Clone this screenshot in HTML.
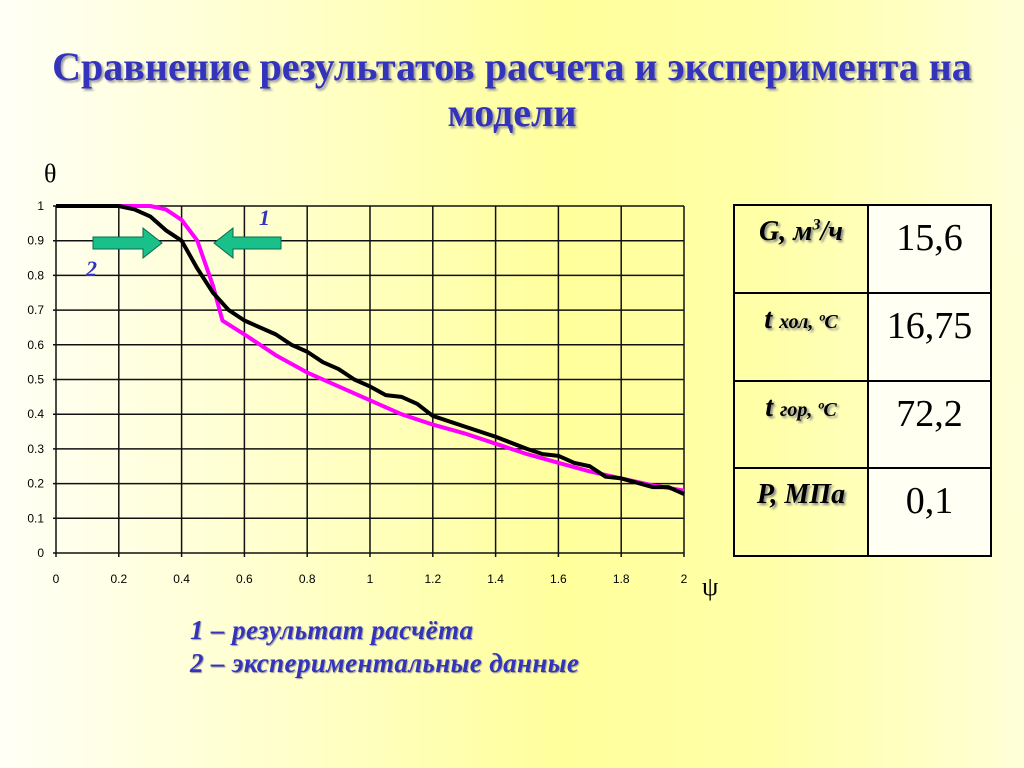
<!DOCTYPE html>
<html><head><meta charset="utf-8"><style>
html,body{margin:0;padding:0}
body{width:1024px;height:768px;overflow:hidden;position:relative;font-family:"Liberation Sans",sans-serif;
background:linear-gradient(90deg,#fffff6 0%,#ffffc8 30%,#ffff9c 55%,#ffffa8 75%,#ffffd8 100%);}
.title{position:absolute;left:0;width:1024px;text-align:center;font-family:"Liberation Serif",serif;font-weight:bold;font-size:40px;color:#3333bb;text-shadow:2px 2px 2px #999;line-height:46px;margin:0}
.leg{position:absolute;left:190px;font-family:"Liberation Serif",serif;font-style:italic;font-weight:bold;font-size:27px;letter-spacing:0.4px;color:#3333bb;text-shadow:1px 1px 1px #999}
table{position:absolute;left:733px;top:204px;width:259px;height:353px;border-collapse:collapse;border:2px solid #000}
td{border:2px solid #000;vertical-align:top;font-family:"Liberation Serif",serif;padding-top:10px;text-align:center}
td.k{width:132px;font-weight:bold;font-style:italic;font-size:28px;color:#000;text-shadow:2px 2px 2px #888;white-space:nowrap;padding-left:0;padding-right:0}
td.v{font-size:38px;background:#fffff4}
</style></head><body>
<h1 class="title" style="top:44px">Сравнение результатов расчета и эксперимента на<br>модели</h1>
<svg width="1024" height="768" style="position:absolute;left:0;top:0">
<g id="grid"></g><g id="ticks"></g><g id="series"></g>
<text x="44" y="182" font-family="Liberation Serif" font-size="26">θ</text>
<text x="702" y="595" font-family="Liberation Serif" font-size="26">ψ</text>
<g><polygon points="93,237 143,237 143,228 162,243 143,258 143,249 93,249" fill="#19c08a" stroke="#0a6a4a" stroke-width="1"/></g>
<g><polygon points="281,237 233,237 233,228 214,243 233,258 233,249 281,249" fill="#19c08a" stroke="#0a6a4a" stroke-width="1"/></g>
<text x="259" y="225" font-family="Liberation Serif" font-style="italic" font-weight="bold" font-size="22" fill="#3333bb">1</text>
<text x="86" y="276" font-family="Liberation Serif" font-style="italic" font-weight="bold" font-size="22" fill="#3333bb">2</text>
</svg>
<div class="leg" style="top:615px">1 – результат расчёта</div>
<div class="leg" style="top:648px">2 – экспериментальные данные</div>
<table>
<tr><td class="k">G, м<sup style="font-size:16px">3</sup>/ч</td><td class="v">15,6</td></tr>
<tr><td class="k">t <span style="font-size:20px">хол, ºС</span></td><td class="v">16,75</td></tr>
<tr><td class="k">t <span style="font-size:20px">гор, ºС</span></td><td class="v">72,2</td></tr>
<tr><td class="k">P, МПа</td><td class="v">0,1</td></tr>
</table>
<script>
const xTicks=[0,0.2,0.4,0.6,0.8,1,1.2,1.4,1.6,1.8,2];
const xTickLabels=["0","0.2","0.4","0.6","0.8","1","1.2","1.4","1.6","1.8","2"];
const yTicks=[0,0.1,0.2,0.3,0.4,0.5,0.6,0.7,0.8,0.9,1];
const yTickLabels=["0","0.1","0.2","0.3","0.4","0.5","0.6","0.7","0.8","0.9","1"];
const calcX=[0,0.3,0.35,0.4,0.45,0.5,0.53,0.6,0.7,0.8,0.9,1.0,1.1,1.2,1.3,1.4,1.5,1.6,1.7,1.8,1.9,2.0];
const calcY=[1,1,0.99,0.96,0.9,0.77,0.67,0.63,0.57,0.52,0.48,0.44,0.4,0.37,0.345,0.315,0.285,0.26,0.235,0.215,0.195,0.18];
const expX=[0,0.2,0.25,0.3,0.35,0.4,0.45,0.5,0.55,0.6,0.7,0.75,0.8,0.85,0.9,0.95,1.0,1.05,1.1,1.15,1.2,1.3,1.4,1.5,1.55,1.6,1.65,1.7,1.75,1.8,1.9,1.95,2.0];
const expY=[1,1,0.99,0.97,0.93,0.9,0.82,0.75,0.7,0.67,0.63,0.6,0.58,0.55,0.53,0.5,0.48,0.455,0.45,0.43,0.395,0.365,0.335,0.3,0.285,0.28,0.26,0.25,0.22,0.215,0.19,0.19,0.17];
const X0=56,X1=684,Y0=553,Y1=206;
function sx(v){return X0+(X1-X0)*v/2;}
function sy(v){return Y0-(Y0-Y1)*v;}
const NS="http://www.w3.org/2000/svg";
function mk(t,a,p){const e=document.createElementNS(NS,t);for(const k in a)e.setAttribute(k,a[k]);p.appendChild(e);return e;}
const grid=document.getElementById('grid'),ticks=document.getElementById('ticks'),series=document.getElementById('series');
xTicks.forEach((v,i)=>{
 const l=mk('line',{x1:sx(v),x2:sx(v),y1:Y1,y2:Y0+4,stroke:'#111','stroke-width':1.5},grid);
 
 
 const t=mk('text',{x:sx(v),y:583,'text-anchor':'middle','font-size':12,'font-family':'Liberation Sans'},ticks);
 t.textContent=xTickLabels[i];
 
 
});
yTicks.forEach((v,i)=>{
 const l=mk('line',{x1:X0-3,x2:X1,y1:sy(v),y2:sy(v),stroke:'#111','stroke-width':1.5},grid);
 
 
 const t=mk('text',{x:44,y:sy(v)+4,'text-anchor':'end','font-size':12,'font-family':'Liberation Sans'},ticks);
 t.textContent=yTickLabels[i];
 
 
});
function line(xs,ys,col,w,name){
 const p=mk('polyline',{points:xs.map((x,i)=>sx(x)+','+sy(ys[i])).join(' '),fill:'none',stroke:col,'stroke-width':w,'stroke-linejoin':'round'},series);
 
 
}
line(calcX,calcY,'#ff00ff',4,'series-calculation');
line(expX,expY,'#000','4','series-experiment');
</script>
</body></html>
